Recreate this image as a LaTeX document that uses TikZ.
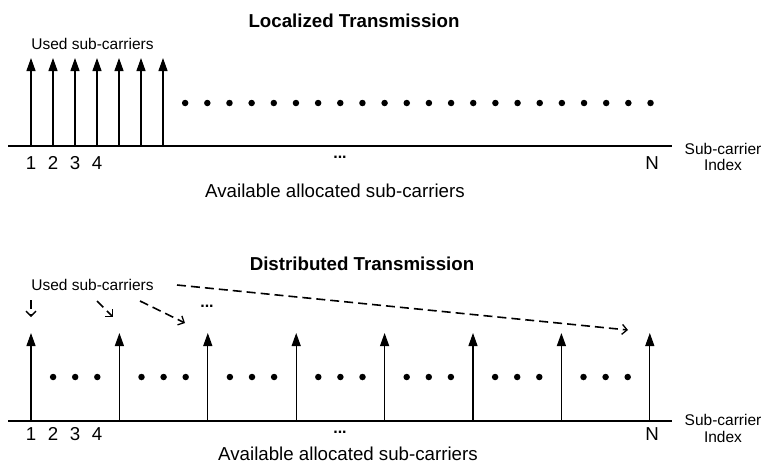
\documentclass[tikz,border=0pt]{standalone}
\usepackage{fontspec}
\setmainfont{Liberation Sans}
\usetikzlibrary{arrows.meta}

\begin{document}
\begin{tikzpicture}[x=1pt,y=-1pt,
  big/.style={font=\fontsize{18.7}{22}\selectfont, inner sep=0pt, anchor=base},
  small/.style={font=\fontsize{15.5}{16}\selectfont, inner sep=0pt, anchor=base},
  ellip/.style={font=\fontsize{16}{16}\selectfont\bfseries, inner sep=0pt, anchor=base},
  titletext/.style={inner sep=0pt, anchor=base, font=\fontsize{18.7}{22}\selectfont\bfseries},
  axisline/.style={line width=1.2pt},
  stem/.style={line width=1.2pt, -{Triangle[length=13pt,width=9pt]}},
  pointer/.style={line width=1.6pt, dash pattern=on 9pt off 5pt,
    -{Straight Barb[length=5pt,width=10pt,line width=1.3pt]}},
  dot/.style={circle, fill, inner sep=0pt, minimum size=6.5pt},
]
\useasboundingbox (0,0) rectangle (763,469);

% ---------- Localized transmission ----------
\node[titletext] (tloc) at (354,27) {Localized Transmission};
\node[small] (usedA) at (92.5,49) {Used sub-carriers};

\coordinate (axAl) at (8,146);
\coordinate (axAr) at (672,146);
\draw[axisline] (axAl) -- (axAr);

% seven adjacent used sub-carriers
\foreach \k in {0,...,6} {
  \coordinate (a\k) at ({31+22*\k},146);
  \coordinate (at\k) at ({31+22*\k},58);
  \draw[stem] (a\k) -- (at\k);
}
% remaining available sub-carriers
\foreach \k in {1,...,22} {
  \node[dot] (da\k) at ({163+22.16*\k},103) {};
}

\foreach \d/\x in {1/31,2/53,3/75,4/97} {
  \node[big] (na\d) at (\x,169) {\d};
}
\node[ellip] (ella) at (340,158) {...};
\node[big] (NA) at (652,169) {N};
\node[small] (sciA) at (723,154) {Sub-carrier};
\node[small] (idxA) at (723,170) {Index};
\node[big] (avA) at (335,197) {Available allocated sub-carriers};

% ---------- Distributed transmission ----------
\node[titletext] (tdis) at (362,270) {Distributed Transmission};
\node[small] (usedB) at (92.5,290) {Used sub-carriers};

\coordinate (axBl) at (8,421);
\coordinate (axBr) at (672,421);
\draw[axisline] (axBl) -- (axBr);

% eight spread-out used sub-carriers with three idle ones in between
\foreach \k in {0,...,7} {
  \coordinate (b\k) at ({31+88.4*\k},421);
  \coordinate (bt\k) at ({31+88.4*\k},333);
  \draw[stem] (b\k) -- (bt\k);
}
\foreach \k in {0,...,6} {
  \foreach \j in {1,2,3} {
    \node[dot] (db\k\j) at ({31+88.4*\k+22.1*\j},377) {};
  }
}

\foreach \d/\x in {1/31,2/53,3/75,4/97} {
  \node[big] (nb\d) at (\x,440) {\d};
}
\node[ellip] (ellb) at (340,433) {...};
\node[ellip] (ellc) at (207,307) {...};
\node[big] (NB) at (652,440) {N};
\node[small] (sciB) at (723,425) {Sub-carrier};
\node[small] (idxB) at (723,442) {Index};
\node[big] (avB) at (348,460) {Available allocated sub-carriers};

% dashed pointers from the label to the used sub-carriers
\coordinate (p1s) at (31,300);   \coordinate (p1e) at (31,317);
\coordinate (p2s) at (97,301);   \coordinate (p2e) at (113,317);
\coordinate (p3s) at (140,301);  \coordinate (p3e) at (185,323);
\coordinate (p4s) at (177,285);  \coordinate (p4e) at (628,330);
\draw[pointer] (p1s) -- (p1e);
\draw[pointer] (p2s) -- (p2e);
\draw[pointer] (p3s) -- (p3e);
\draw[pointer] (p4s) -- (p4e);
\end{tikzpicture}
\end{document}
